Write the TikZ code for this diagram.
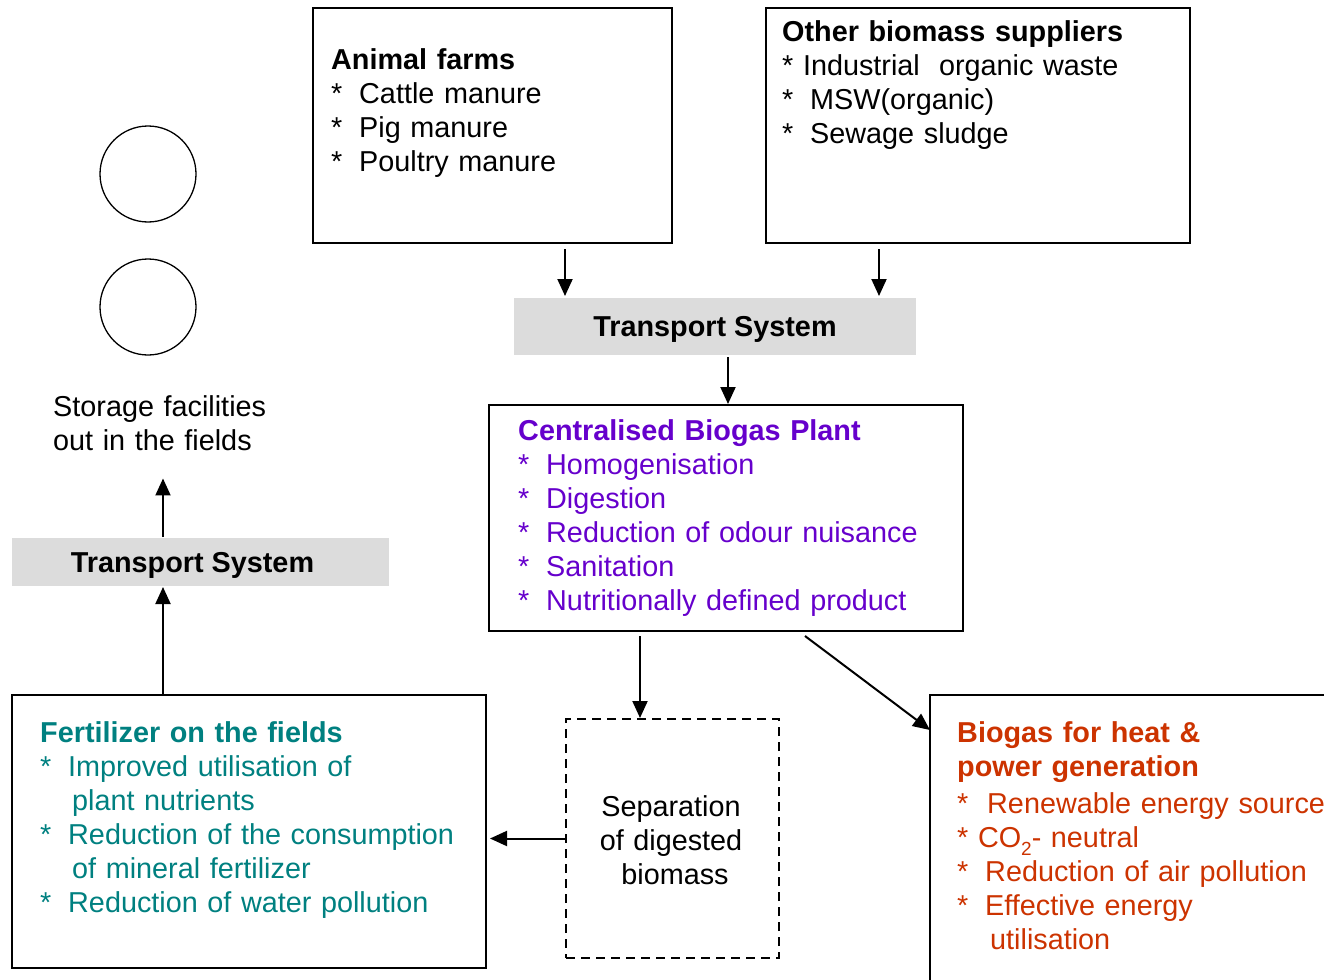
\documentclass[tikz,border=0pt]{standalone}
\usepackage{fontspec}
\setmainfont{Liberation Sans}
\usetikzlibrary{arrows.meta, positioning}

\definecolor{plantviolet}{HTML}{6600CC}
\definecolor{fieldteal}{HTML}{008080}
\definecolor{energyred}{HTML}{CC3300}
\definecolor{transgray}{HTML}{DCDCDC}

\newcommand{\bul}[1][28pt]{\makebox[#1][l]{*}}

\begin{document}
\begin{tikzpicture}[
        x = 1pt, y = -1pt,
        >= {Triangle[length = 17pt, width = 15pt]},
        box/.style = {draw, line width = 1.6pt, anchor = north west, inner sep = 0pt, outer sep = 0pt},
        transport/.style = {fill = transgray, anchor = north west, inner sep = 0pt, outer sep = 0pt,
                            text depth = 0pt, font = \fontsize{28.8}{34}\selectfont\bfseries},
        tank/.style = {draw, circle, line width = 1.3pt, minimum size = 96pt, inner sep = 0pt},
        txt/.style = {anchor = base west, inner sep = 0pt, align = left, text width = #1,
                      font = \fontsize{28.8}{34}\selectfont},
        txt/.default = 480pt,
        arrow/.style = {->, line width = 2pt}
    ]

    \useasboundingbox (0,0) rectangle (1324,979);
    \clip (0,0) rectangle (1324,979);

    % suppliers
    \node[box, minimum width = 359pt, minimum height = 235pt] (animal) at (313,8) {};
    \node[box, minimum width = 424pt, minimum height = 235pt] (other)  at (766,8) {};

    \node[txt] (animalText) at (331,70)
        {\textbf{Animal farms}\\ \bul Cattle manure\\ \bul Pig manure\\ \bul Poultry manure};
    \node[txt] (otherText) at (782,42)
        {\textbf{Other biomass suppliers}\\ {*} Industrial\ \ organic waste\\ \bul MSW(organic)\\ \bul Sewage sludge};

    \node[transport, minimum width = 402pt, minimum height = 57pt] (tsTop) at (514,298) {Transport System};

    % plant
    \node[box, minimum width = 474pt, minimum height = 226pt] (plant) at (489,405) {};
    \node[txt, text = plantviolet] (plantText) at (518,440)
        {\textbf{Centralised Biogas Plant}\\ \bul Homogenisation\\ \bul Digestion\\
         \bul Reduction of odour nuisance\\ \bul Sanitation\\ \bul Nutritionally defined product};

    % products
    \node[box, dash pattern = on 9pt off 6pt, minimum width = 213pt, minimum height = 239pt] (sep) at (566,719) {};
    \node[txt = 200pt, align = center, anchor = base] (sepText) at (671,816)
        {Separation\\of digested\\\hspace*{8pt}biomass};

    \node[box, minimum width = 474pt, minimum height = 273pt] (fert) at (12,695) {};
    \node[txt, text = fieldteal] (fertText) at (40,742)
        {\textbf{Fertilizer on the fields}\\ \bul Improved utilisation of\\ \hspace*{32pt}plant nutrients\\
         \bul Reduction of the consumption\\ \hspace*{32pt}of mineral fertilizer\\ \bul Reduction of water pollution};

    \node[box, minimum width = 420pt, minimum height = 300pt] (biogas) at (930,695) {};
    \node[txt, text = energyred] (biogasText) at (957,742)
        {\textbf{Biogas for heat \&}\\ \textbf{power generation}\\[3pt]
         \bul[30pt]Renewable energy source\\
         {*} CO\raisebox{-0.3em}{\fontsize{19}{19}\selectfont 2}- neutral\\
         \bul Reduction of air pollution\\ \bul Effective energy\\ \hspace*{33pt}utilisation};

    % fields
    \node[transport, minimum width = 377pt, minimum height = 48pt] (tsLeft) at (12,538) {\hspace*{-16pt}Transport System};
    \node[txt] (storage) at (53,416) {Storage facilities\\out in the fields};
    \node[tank] (tankA) at (148,174) {};
    \node[tank] (tankB) at (148,307) {};

    \draw[arrow] ([xshift = 252pt, yshift = -6pt]animal.south west) -- ([xshift = 51pt, yshift = 2pt]tsTop.north west);
    \draw[arrow] ([xshift = 113pt, yshift = -6pt]other.south west)  -- ([xshift = 365pt, yshift = 2pt]tsTop.north west);
    \draw[arrow] ([xshift = 214pt, yshift = -2pt]tsTop.south west)  -- ([xshift = 239pt, yshift = 1pt]plant.north west);
    \draw[arrow] ([xshift = 151pt, yshift = -5pt]plant.south west)  -- ([xshift = 74pt, yshift = 1pt]sep.north west);
    \draw[arrow] ([xshift = 316pt, yshift = -5pt]plant.south west)  -- ([yshift = -35pt]biogas.north west);
    \draw[arrow, shorten >= 4pt] (sep.west) -- (sep.west -| fert.east);
    \draw[arrow] ([xshift = 151pt]fert.north west) -- ([xshift = 151pt, yshift = -1pt]tsLeft.south west);
    \draw[arrow] ([xshift = 151pt, yshift = 1pt]tsLeft.north west) -- ([xshift = 110pt, yshift = -28pt]storage.south west);

\end{tikzpicture}
\end{document}
